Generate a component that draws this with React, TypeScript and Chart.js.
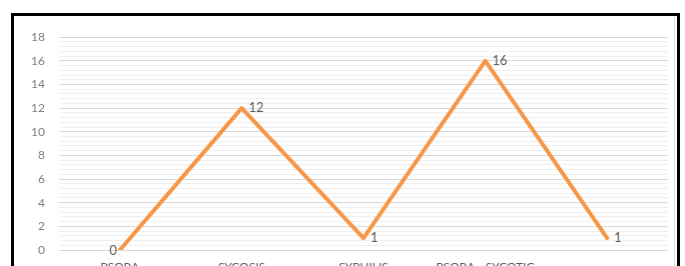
import React, { useEffect, useRef } from "react";
import { Chart, registerables } from "chart.js";

Chart.register(...registerables);

const categories = ["PSORA", "SYCOSIS", "SYPHILIS", "PSORA - SYCOTIC", ""];
const values = [0, 12, 1, 16, 1];
const yMin = 0;
const yMax = 18;
const yStep = 2;
const minorStep = 0.4;

const FONT = "Lato, 'Open Sans', 'Liberation Sans', sans-serif";

const labelPlugin = {
  id: "pointLabels",
  afterDatasetsDraw(chart: any) {
    const ctx = chart.ctx;
    const meta = chart.getDatasetMeta(0);
    ctx.save();
    ctx.font = `13px ${FONT}`;
    ctx.fillStyle = "#595959";
    ctx.textBaseline = "middle";
    meta.data.forEach((el: any, i: number) => {
      const v = values[i];
      if (i === 0) {
        ctx.textAlign = "right";
        ctx.fillText(String(v), el.x - 3, el.y + 1);
      } else {
        ctx.textAlign = "left";
        ctx.fillText(String(v), el.x + 7, el.y);
      }
    });
    ctx.restore();
  },
};

export default function App() {
  const ref = useRef<HTMLCanvasElement | null>(null);
  useEffect(() => {
    if (!ref.current) return;
    const chart = new Chart(ref.current, {
      type: "line",
      data: {
        labels: categories,
        datasets: [
          {
            data: values,
            borderColor: "#F79646",
            borderWidth: 4,
            borderJoinStyle: "round",
            borderCapStyle: "round",
            pointRadius: 0,
            tension: 0,
            fill: false,
          },
        ],
      },
      options: {
        animation: false,
        responsive: false,
        maintainAspectRatio: false,
        layout: { padding: { top: 19, right: 6, left: 0, bottom: 0 } },
        plugins: { legend: { display: false }, tooltip: { enabled: false } },
        scales: {
          x: {
            offset: true,
            grid: { display: false, drawTicks: false },
            border: { display: false },
            ticks: { color: "#595959", font: { family: FONT, size: 12 }, padding: 10, maxRotation: 0, autoSkip: false },
            afterFit: (s: any) => { s.height = 46; },
          },
          y2: {
            position: "left",
            min: yMin,
            max: yMax,
            display: true,
            ticks: { display: false, stepSize: minorStep },
            grid: { color: "#efefef", lineWidth: 1, drawTicks: false },
            border: { display: false },
            afterFit: (s: any) => { s.width = 0; },
          },
          y: {
            position: "left",
            min: yMin,
            max: yMax,
            ticks: { stepSize: yStep, color: "#7f7f7f", font: { family: FONT, size: 12 }, padding: 14 },
            grid: { color: "#d9d9d9", lineWidth: 1, drawTicks: false },
            border: { display: false },
            afterFit: (s: any) => { s.width = 45; },
          },
        },
      },
      plugins: [labelPlugin],
    } as any);
    return () => chart.destroy();
  }, []);
  return (
    <div
      style={{
        position: "absolute",
        left: 11,
        top: 13,
        width: 663,
        height: 300,
        border: "3px solid #000",
        background: "#fff",
      }}
    >
      <canvas
        ref={ref}
        width={661}
        height={280}
        style={{ display: "block", width: 661, height: 280, borderRight: "1px solid #d9d9d9" }}
      />
    </div>
  );
}
